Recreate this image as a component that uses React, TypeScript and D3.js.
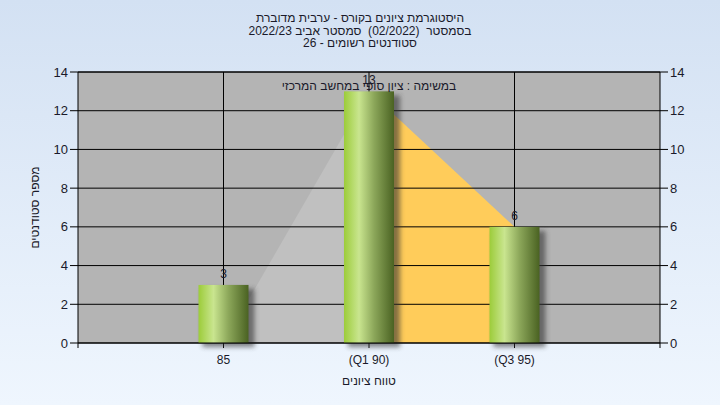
import React from "react";
import * as d3 from "d3";

const categories = ["85", "(Q1 90)", "(Q3 95)"];
const counts = [3, 13, 6];
const grayArea = [0, 13];
const yellowArea = [13, 6];
const yTicks = [0, 2, 4, 6, 8, 10, 12, 14];
const titleLines = [
  "היסטוגרמת ציונים בקורס - ערבית מדוברת",
  "בסמסטר\u00a0\u00a0(02/2022)\u00a0\u00a0סמסטר אביב 2022/23",
  "סטודנטים רשומים - 26",
];
const innerLabel = "במשימה : ציון סופי במחשב המרכזי";
const yTitle = "מספר סטודנטים";
const xTitle = "טווח ציונים";

const W = 720, H = 405;
const L = 78, R = 660, T = 72, B = 343;
const FONT = "Arial, 'Liberation Sans', sans-serif";

export default function App() {
  const x = d3.scaleLinear().domain([0, categories.length + 1]).range([L, R]);
  const y = d3.scaleLinear().domain([0, 14]).range([B, T]);
  const barW = 50;
  const area = d3.area<[number, number]>().x(d => x(d[0])).y0(y(0)).y1(d => y(d[1]));
  const grayPts: [number, number][] = grayArea.map((v, i) => [i + 1, v]);
  const yellowPts: [number, number][] = yellowArea.map((v, i) => [i + 2, v]);
  return (
    <svg width={W} height={H} style={{ position: "absolute", left: 0, top: 0 }} fontFamily={FONT}>
      <defs>
        <linearGradient id="bg" x1="0" y1="0" x2="0" y2="1">
          <stop offset="0" stopColor="#d3e1f3" />
          <stop offset="1" stopColor="#eff6fe" />
        </linearGradient>
        <linearGradient id="bar" x1="0" y1="0" x2="1" y2="0">
          <stop offset="0" stopColor="#9ccc3a" />
          <stop offset="0.3" stopColor="#c9e58f" />
          <stop offset="0.6" stopColor="#8ca75a" />
          <stop offset="1" stopColor="#4a6222" />
        </linearGradient>
        <filter id="sh" x="-30%" y="-30%" width="160%" height="160%">
          <feGaussianBlur stdDeviation="2.5" />
        </filter>
      </defs>
      <rect x={0} y={0} width={W} height={H} fill="url(#bg)" />
      <rect x={L} y={T} width={R - L} height={B - T} fill="#b4b4b4" />
      <path d={area(grayPts) || ""} fill="#c0c0c0" />
      <path d={area(yellowPts) || ""} fill="#ffcc5a" />
      {yTicks.map(t => (
        <line key={"g" + t} x1={L} x2={R} y1={y(t)} y2={y(t)} stroke="#000" strokeWidth={1} />
      ))}
      {categories.map((c, i) => (
        <line key={"v" + c} x1={x(i + 1)} x2={x(i + 1)} y1={T} y2={B + 5} stroke="#000" strokeWidth={1} />
      ))}
      <line x1={L} x2={L} y1={T} y2={B + 5} stroke="#000" />
      <line x1={R} x2={R} y1={T} y2={B + 5} stroke="#000" />
      {counts.map((v, i) => (
        <g key={"b" + i}>
          <rect x={x(i + 1) - barW / 2 + 4} y={y(v) + 4} width={barW + 2} height={y(0) - y(v)} fill="#333" opacity={0.6} filter="url(#sh)" />
          <rect x={x(i + 1) - barW / 2} y={y(v)} width={barW} height={y(0) - y(v)} fill="url(#bar)" />
          <text x={x(i + 1)} y={y(v) - 7} textAnchor="middle" fontSize={12} fill="#1a1a2a">{v}</text>
        </g>
      ))}
      <line x1={L} x2={R} y1={B} y2={B} stroke="#000" />
      <line x1={L} x2={R} y1={T} y2={T} stroke="#000" />
      {yTicks.map(t => (
        <g key={"t" + t}>
          <line x1={L - 8} x2={L} y1={y(t)} y2={y(t)} stroke="#000" />
          <line x1={R} x2={R + 8} y1={y(t)} y2={y(t)} stroke="#000" />
          <text x={L - 10} y={y(t) + 4.5} textAnchor="end" fontSize={13} fill="#1a1a2a">{t}</text>
          <text x={R + 10} y={y(t) + 4.5} textAnchor="start" fontSize={13} fill="#1a1a2a">{t}</text>
        </g>
      ))}
      {categories.map((c, i) => (
        <text key={"c" + c} x={x(i + 1)} y={364} textAnchor="middle" fontSize={12} fill="#1a1a2a" style={{ direction: "ltr" }}>{c}</text>
      ))}
      <text x={x(2)} y={90} textAnchor="middle" fontSize={12} fill="#1a1a2a" style={{ direction: "rtl" }}>{innerLabel}</text>
      {titleLines.map((t, i) => (
        <text key={"ti" + i} x={360} y={22 + i * 12.5} textAnchor="middle" fontSize={12} fill="#1a1a2a" style={{ direction: "rtl" }}>{t}</text>
      ))}
      <text x={x(2)} y={385} textAnchor="middle" fontSize={12} fill="#1a1a2a" style={{ direction: "rtl" }}>{xTitle}</text>
      <text transform={`translate(39,${(T + B) / 2}) rotate(-90)`} textAnchor="middle" fontSize={12} fill="#1a1a2a" style={{ direction: "rtl" }}>{yTitle}</text>
    </svg>
  );
}
